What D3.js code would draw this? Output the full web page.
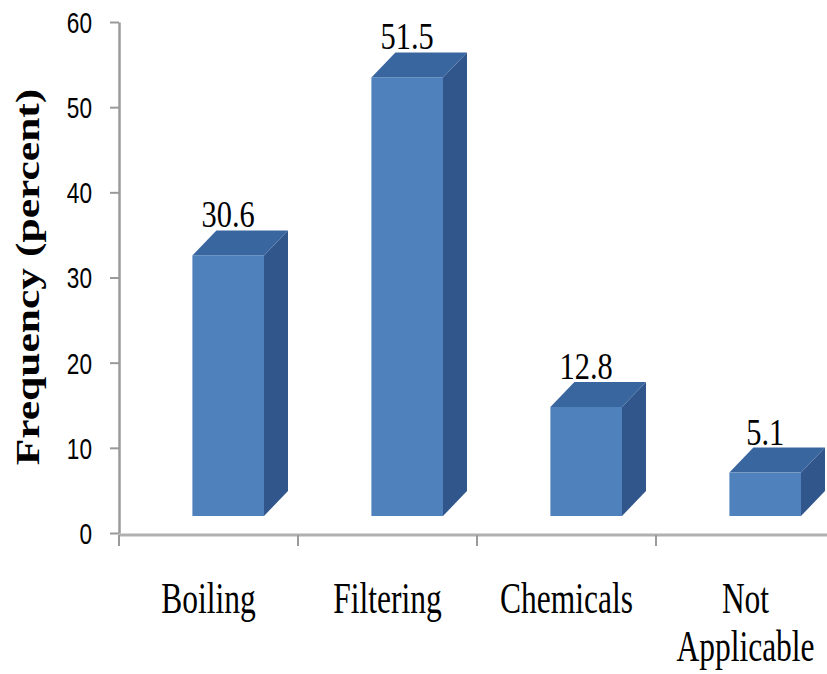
<!DOCTYPE html>
<html>
<head>
<meta charset="utf-8">
<script src="https://cdn.jsdelivr.net/npm/d3@7"></script>
<style>
  body { margin: 0; background: #fff; }
  svg { display: block; }
</style>
</head>
<body>
<svg width="827" height="674"></svg>
<script>
// data
const categories = ['Boiling', 'Filtering', 'Chemicals', 'Not Applicable'];
const values = [30.6, 51.5, 12.8, 5.1];
const yTicks = [0, 10, 20, 30, 40, 50, 60];

const svg = d3.select('svg');

// band per category, 4 bands from the y axis to just past the right edge
const x = d3.scaleBand().domain(categories).range([119, 835]);
const y = d3.scaleLinear().domain([0, 60]).range([533, 22]);

const bw = x.bandwidth();
const floor = 17;   // front face sits a bit above the axis floor
const dx = 24, dy = 25; // 3d depth

// y axis
const yAxis = svg.append('g')
  .attr('transform', 'translate(119,0)')
  .call(d3.axisLeft(y).tickValues(yTicks).tickSize(9).tickPadding(16).tickSizeOuter(0));
yAxis.attr('font-size', null).attr('font-family', null);
yAxis.select('.domain').attr('stroke', '#9a9a9a').attr('stroke-width', 2.5);
yAxis.selectAll('.tick line').attr('stroke', '#9a9a9a').attr('stroke-width', 2);
// narrow tall digits like the original
const sx = 0.78;
yAxis.selectAll('.tick text')
  .style('font-family', '"Liberation Sans", Arial, sans-serif')
  .style('font-size', '29px')
  .attr('x', -27 / sx)
  .attr('transform', `scale(${sx},1)`)
  .attr('dy', '0.36em')
  .attr('fill', '#000');

// x axis line + ticks at band edges
const xAxis = svg.append('g').attr('transform', `translate(0,${y(0) + 2})`);
xAxis.append('line')
  .attr('x1', 119).attr('x2', 835)
  .attr('stroke', '#b0b0b0').attr('stroke-width', 3);
xAxis.selectAll('line.tk')
  .data(categories)
  .enter()
  .append('line')
  .attr('class', 'tk')
  .attr('x1', (d) => x(d)).attr('x2', (d) => x(d))
  .attr('y1', 0).attr('y2', 11)
  .attr('stroke', '#9a9a9a').attr('stroke-width', 2);

// bars
const data = categories.map((c, i) => ({ cat: c, v: values[i] }));
const bars = svg.selectAll('g.bar').data(data).enter().append('g').attr('class', 'bar');

const geo = (d) => {
  const x0 = x(d.cat) + bw * 0.41;
  const w = bw * 0.40;
  const yt = y(d.v) - floor;
  const yb = y(0) - floor;
  return { x0, w, yt, yb };
};

bars.append('polygon')
  .attr('fill', '#30568b')
  .attr('points', (d) => {
    const g = geo(d);
    return [[g.x0 + g.w, g.yt], [g.x0 + g.w + dx, g.yt - dy], [g.x0 + g.w + dx, g.yb - dy], [g.x0 + g.w, g.yb]].join(' ');
  });

bars.append('polygon')
  .attr('fill', '#3a66a0')
  .attr('points', (d) => {
    const g = geo(d);
    return [[g.x0, g.yt], [g.x0 + dx, g.yt - dy], [g.x0 + g.w + dx, g.yt - dy], [g.x0 + g.w, g.yt]].join(' ');
  });

bars.append('rect')
  .attr('fill', '#4f81bd')
  .attr('x', (d) => geo(d).x0)
  .attr('y', (d) => geo(d).yt)
  .attr('width', (d) => geo(d).w)
  .attr('height', (d) => geo(d).yb - geo(d).yt);

// value labels
bars.append('text')
  .attr('transform', (d) => {
    const g = geo(d);
    return `translate(${g.x0 + g.w / 2},${g.yt - dy - 3}) scale(0.8,1)`;
  })
  .attr('text-anchor', 'middle')
  .style('font-family', '"Liberation Serif", "Times New Roman", serif')
  .style('font-size', '38px')
  .text((d) => d.v);

// category labels, wrap on space for the long one
const catText = svg.selectAll('text.cat')
  .data(categories)
  .enter()
  .append('text')
  .attr('class', 'cat')
  .attr('transform', (d) => `translate(${x(d) + bw / 2},613) scale(0.7,1)`)
  .attr('text-anchor', 'middle')
  .style('font-family', '"Liberation Serif", "Times New Roman", serif')
  .style('font-size', '45px');

catText.each(function (d) {
  const words = d === 'Not Applicable' ? d.split(' ') : [d];
  d3.select(this).selectAll('tspan')
    .data(words)
    .enter()
    .append('tspan')
    .attr('x', 0)
    .attr('dy', (w, i) => (i === 0 ? 0 : 48))
    .text((w) => w);
});

// y title
svg.append('text')
  .attr('transform', 'translate(39,277) rotate(-90) scale(1.28,1)')
  .attr('text-anchor', 'middle')
  .style('font-family', '"Liberation Serif", "Times New Roman", serif')
  .style('font-weight', 'bold')
  .style('font-size', '34px')
  .text('Frequency (percent)');
</script>
</body>
</html>
